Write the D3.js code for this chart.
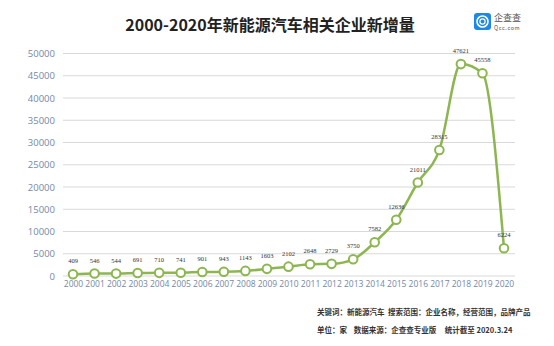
<!DOCTYPE html>
<html><head><meta charset="utf-8">
<script src="https://cdn.jsdelivr.net/npm/d3@7"></script>
<style>body{margin:0;background:#fff;}svg{display:block;font-family:"Noto Sans CJK SC","Noto Sans",sans-serif;}</style>
</head><body><svg id="c" width="554" height="346"></svg>
<script>
const years = ["2000","2001","2002","2003","2004","2005","2006","2007","2008","2009","2010","2011","2012","2013","2014","2015","2016","2017","2018","2019","2020"];
const values = [409,546,544,691,710,741,901,943,1143,1603,2102,2648,2729,3750,7582,12636,21011,28315,47621,45558,6224];
const yTicks = [0,5000,10000,15000,20000,25000,30000,35000,40000,45000,50000];
const title = "2000-2020年新能源汽车相关企业新增量";
const notes = ["关键词：新能源汽车  搜索范围：企业名称，经营范围，品牌产品","单位：家    数据来源：企查查专业版     统计截至 2020.3.24"];

const svg = d3.select("#c");
const x = d3.scalePoint().domain(years).range([73,504]);
const y = d3.scaleLinear().domain([0,50000]).range([276,53.5]);
const green = "#8db650";

// grid
svg.append("g").selectAll("line").data(yTicks).join("line")
  .attr("x1",63).attr("x2",515).attr("y1",d=>y(d)).attr("y2",d=>y(d))
  .attr("stroke","#d9d9d9").attr("stroke-width",1);

// y axis
const ya = svg.append("g").attr("transform","translate(63,0)")
  .call(d3.axisLeft(y).tickValues(yTicks).tickSize(0).tickPadding(8).tickFormat(d3.format("d")));
ya.select(".domain").remove();
ya.selectAll("text").attr("fill","#7388a8").attr("font-size","9.5px").attr("font-family","'Open Sans',sans-serif");

// x axis
const xa = svg.append("g").attr("transform","translate(0,276)")
  .call(d3.axisBottom(x).tickSize(0).tickPadding(5));
xa.select(".domain").remove();
xa.selectAll("text").attr("fill","#7388a8").attr("font-size","8.5px").attr("font-family","'Open Sans',sans-serif");

// line
const line = d3.line().x((d,i)=>x(years[i])).y(d=>y(d)).curve(d3.curveMonotoneX);
svg.append("path").datum(values).attr("d",line).attr("fill","none")
  .attr("stroke",green).attr("stroke-width",2.5);

svg.append("g").selectAll("circle").data(values).join("circle")
  .attr("cx",(d,i)=>x(years[i])).attr("cy",d=>y(d)).attr("r",4.3)
  .attr("fill","#fff").attr("stroke",green).attr("stroke-width",2);

svg.append("g").selectAll("text").data(values).join("text")
  .attr("x",(d,i)=>x(years[i])).attr("y",d=>y(d)-11)
  .attr("text-anchor","middle").attr("font-size","6.5px").attr("fill","#333")
  .attr("font-family","'Liberation Serif',serif")
  .text(d=>d);

// title
svg.append("text").attr("x",270).attr("y",31).attr("text-anchor","middle")
  .attr("font-size","16px").attr("font-weight","bold").attr("fill","#222").text(title);

// logo
const lg = svg.append("g");
lg.append("rect").attr("x",474).attr("y",13).attr("width",17).attr("height",17).attr("rx",3).attr("fill","#1e88e5");
lg.append("circle").attr("cx",482.5).attr("cy",21.5).attr("r",5.5).attr("fill","none").attr("stroke","#fff").attr("stroke-width",1.6);
lg.append("circle").attr("cx",482.5).attr("cy",21.5).attr("r",2.6).attr("fill","none").attr("stroke","#fff").attr("stroke-width",1.2);
lg.append("text").attr("x",494).attr("y",21).attr("font-size","9px").attr("fill","#555").text("企查查");
lg.append("text").attr("x",494).attr("y",30).attr("font-size","5.5px").attr("fill","#555").attr("letter-spacing","0.6px").text("Qcc.com");

// notes
svg.append("g").selectAll("text").data(notes).join("text")
  .attr("x",317).attr("y",(d,i)=>315+i*18)
  .attr("font-size","7.5px").attr("font-weight","bold").attr("fill","#333").attr("xml:space","preserve")
  .style("white-space","pre").text(d=>d);
</script></body></html>
